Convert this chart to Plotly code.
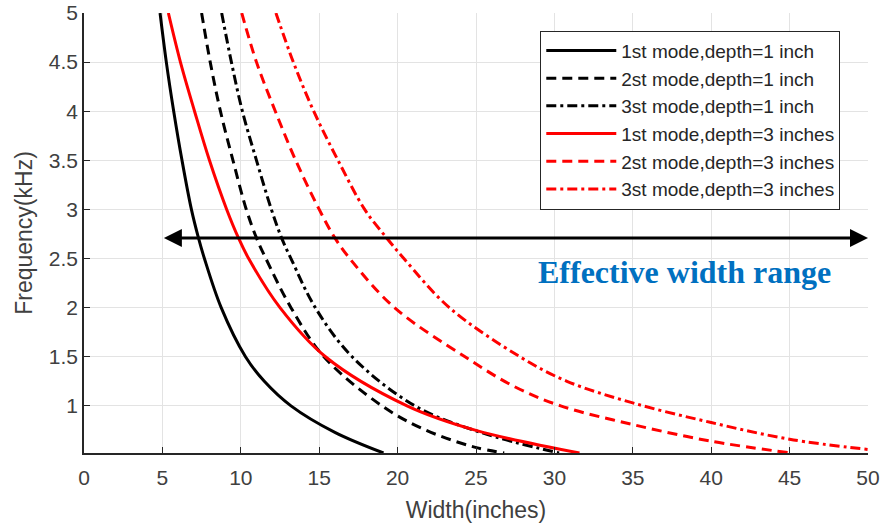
import plotly.graph_objects as go

# ---- data (width in inches, frequency in kHz) ----
w_1st_d1 = [4.85, 5.25, 5.72, 6.25, 6.85, 7.3, 7.68, 8.75, 10.3, 11.5, 13.2, 16.0, 19.1]
f_1st_d1 = [5.0, 4.5, 4.0, 3.5, 3.0, 2.71, 2.5, 2.0, 1.5, 1.25, 1.0, 0.73, 0.52]

w_2nd_d1 = [7.5, 8.05, 8.7, 9.5, 10.35, 11.0, 11.6, 13.2, 15.3, 19.0, 21.7, 24.9, 26.8]
f_2nd_d1 = [5.0, 4.5, 4.0, 3.5, 3.0, 2.71, 2.5, 2.0, 1.5, 1.0, 0.76, 0.58, 0.52]

w_3rd_d1 = [8.78, 9.4, 10.1, 11.0, 11.95, 12.6, 13.2, 14.75, 17.1, 21.1, 25.3, 30.3]
f_3rd_d1 = [5.0, 4.5, 4.0, 3.5, 3.0, 2.71, 2.5, 2.0, 1.5, 1.0, 0.73, 0.52]

w_1st_d3 = [5.38, 6.15, 7.05, 8.0, 9.1, 9.85, 10.5, 12.5, 15.4, 20.6, 25.0, 31.6]
f_1st_d3 = [5.0, 4.5, 4.0, 3.5, 3.0, 2.71, 2.5, 2.0, 1.5, 1.0, 0.75, 0.52]

w_2nd_d3 = [10.06, 11.0, 12.2, 13.5, 15.0, 16.0, 16.95, 19.8, 24.3, 27.4, 30.4, 35.0, 40.0, 45.1]
f_2nd_d3 = [5.0, 4.5, 4.0, 3.5, 3.0, 2.71, 2.5, 2.0, 1.5, 1.2, 1.0, 0.81, 0.64, 0.52]

w_3rd_d3 = [12.24, 13.35, 14.65, 16.2, 17.9, 19.3, 20.4, 23.3, 27.8, 30.8, 35.0, 40.0, 45.0, 50.0]
f_3rd_d3 = [5.0, 4.5, 4.0, 3.5, 3.0, 2.71, 2.5, 2.0, 1.5, 1.25, 1.03, 0.83, 0.66, 0.556]

series_names = [
    "1st mode,depth=1 inch",
    "2st mode,depth=1 inch",
    "3st mode,depth=1 inch",
    "1st mode,depth=3 inches",
    "2st mode,depth=3 inches",
    "3st mode,depth=3 inches",
]

x_ticks = [0, 5, 10, 15, 20, 25, 30, 35, 40, 45, 50]
y_ticks = [1, 1.5, 2, 2.5, 3, 3.5, 4, 4.5, 5]
y_tick_text = ["1", "1.5", "2", "2.5", "3", "3.5", "4", "4.5", "5"]

arrow_y = 2.71
arrow_x_start = 5
arrow_x_end = 50
range_label = "Effective width range"
range_label_x = 38.3
range_label_y = 2.36

# ---- styles ----
DASH = "10px,6px"
DASHDOT = "10px,4px,3px,4px"
styles = [
    ("black", "solid"), ("black", DASH), ("black", DASHDOT),
    ("#ff0000", "solid"), ("#ff0000", DASH), ("#ff0000", DASHDOT),
]
data = [
    (w_1st_d1, f_1st_d1), (w_2nd_d1, f_2nd_d1), (w_3rd_d1, f_3rd_d1),
    (w_1st_d3, f_1st_d3), (w_2nd_d3, f_2nd_d3), (w_3rd_d3, f_3rd_d3),
]

fig = go.Figure()
for (xs, ys), name, (col, dash) in zip(data, series_names, styles):
    fig.add_trace(go.Scatter(
        x=xs, y=ys, mode="lines", name=name,
        line=dict(color=col, width=3, dash=dash, shape="spline", smoothing=1.0),
        cliponaxis=True,
    ))

fig.add_annotation(
    x=arrow_x_end, y=arrow_y, ax=arrow_x_start, ay=arrow_y,
    xref="x", yref="y", axref="x", ayref="y",
    text="", showarrow=True, arrowhead=2, arrowside="end+start",
    arrowsize=1.2, arrowwidth=3, arrowcolor="black",
)
fig.add_annotation(
    x=range_label_x, y=range_label_y, xref="x", yref="y", text=range_label,
    showarrow=False,
    font=dict(family="Liberation Serif, Times New Roman, serif", size=32,
              color="#0070C0", weight="bold"),
)

axis_font = dict(family="Liberation Sans, Arial, sans-serif", size=21, color="#404040")
fig.update_layout(
    width=883, height=525,
    margin=dict(l=84, r=15, t=13, b=72, autoexpand=False),
    paper_bgcolor="white", plot_bgcolor="white",
    font=dict(family="Liberation Sans, Arial, sans-serif", color="#262626"),
    showlegend=True,
    legend=dict(
        x=0.582, y=0.96, xanchor="left", yanchor="top",
        bgcolor="white", bordercolor="#262626", borderwidth=1,
        font=dict(size=19, color="#262626"),
        itemwidth=70, tracegroupgap=0,
    ),
    xaxis=dict(
        range=[0, 50], tickvals=x_ticks, ticks="inside", ticklen=6,
        tickcolor="#262626", showline=True, linecolor="#262626", linewidth=1.5,
        showgrid=True, gridcolor="#e3e3e3", gridwidth=1, zeroline=False,
        tickfont=axis_font, automargin=False, ticklabelstandoff=5,
        title=dict(text="Width(inches)", font=dict(size=23, color="#404040"), standoff=14),
        mirror=False,
    ),
    yaxis=dict(
        range=[0.52, 5], tickvals=y_ticks, ticktext=y_tick_text, ticks="inside",
        ticklen=6, tickcolor="#262626", showline=True, linecolor="#262626",
        linewidth=1.5, showgrid=True, gridcolor="#e3e3e3", gridwidth=1,
        zeroline=False, tickfont=axis_font, automargin=False,
        title=dict(text="Frequency(kHz)", font=dict(size=23, color="#404040"), standoff=10),
        mirror=False,
    ),
)

fig.write_html("out.html", config={"displayModeBar": False},
               post_script="document.body.style.margin='0px';")
